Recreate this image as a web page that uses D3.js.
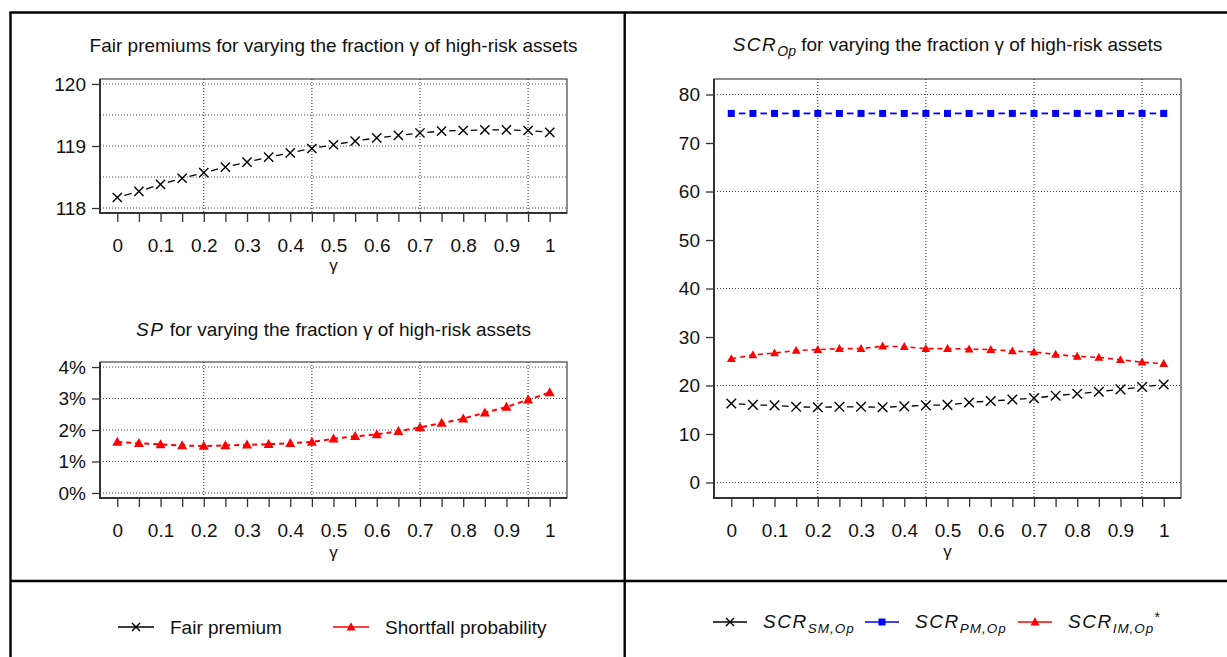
<!DOCTYPE html>
<html>
<head>
<meta charset="utf-8">
<script src="https://cdn.jsdelivr.net/npm/d3@7"></script>
<style>
body { margin: 0; background: #fff; }
svg text { font-family: "Liberation Sans", Arial, sans-serif; fill: #111; }
</style>
</head>
<body>
<div id="chart"></div>
<script>
// ---- data ----
const gamma = [0, 0.05, 0.1, 0.15, 0.2, 0.25, 0.3, 0.35, 0.4, 0.45, 0.5,
    0.55, 0.6, 0.65, 0.7, 0.75, 0.8, 0.85, 0.9, 0.95, 1];
const gammaLabels = ["0", "", "0.1", "", "0.2", "", "0.3", "", "0.4", "", "0.5",
    "", "0.6", "", "0.7", "", "0.8", "", "0.9", "", "1"];
const gammaGrid = [0.2, 0.45, 0.7, 0.95];

const fairPremium = [118.17, 118.27, 118.38, 118.48, 118.57, 118.66, 118.74, 118.82,
    118.89, 118.96, 119.02, 119.08, 119.13, 119.17, 119.21, 119.24, 119.25, 119.26,
    119.26, 119.25, 119.22];
const premiumTicks = [118, 119, 120];
const premiumGrid = [118, 118.5, 119, 119.5, 120];

const shortfallProb = [0.0162, 0.0158, 0.0154, 0.0151, 0.0149, 0.0151, 0.0153, 0.0155,
    0.0158, 0.0162, 0.0172, 0.0180, 0.0186, 0.0196, 0.0208, 0.0222, 0.0236, 0.0255,
    0.0273, 0.0296, 0.0319];
const spTicks = [0, 0.01, 0.02, 0.03, 0.04];

const scrSM = [16.3, 16.0, 15.9, 15.6, 15.5, 15.6, 15.6, 15.5, 15.7, 15.9, 16.0,
    16.5, 16.8, 17.1, 17.4, 17.9, 18.3, 18.7, 19.2, 19.7, 20.2];
const scrPM = [76.1, 76.1, 76.1, 76.1, 76.1, 76.1, 76.1, 76.1, 76.1, 76.1, 76.1,
    76.1, 76.1, 76.1, 76.1, 76.1, 76.1, 76.1, 76.1, 76.1, 76.1];
const scrIM = [25.5, 26.3, 26.7, 27.2, 27.4, 27.6, 27.6, 28.1, 28.0, 27.6, 27.6,
    27.5, 27.4, 27.1, 26.9, 26.4, 26.0, 25.8, 25.3, 24.8, 24.5];
const scrTicks = [0, 10, 20, 30, 40, 50, 60, 70, 80];
const scrGrid = [0, 20, 40, 60, 80];

// ---- drawing ----
const W = 1227, H = 657;
const svg = d3.select("#chart").append("svg")
    .attr("width", W).attr("height", H);

const markers = {
    cross: s => `M${-s},${-s}L${s},${s}M${-s},${s}L${s},${-s}`,
    tri: s => `M0,${-s * 1.05}L${s},${s * 0.75}L${-s},${s * 0.75}Z`,
    square: s => `M${-s},${-s}H${s}V${s}H${-s}Z`
};

function drawMarker(g, type, size, color, x, y) {
    const p = g.append("path")
        .attr("d", markers[type](size))
        .attr("transform", `translate(${x},${y})`);
    if (type === "cross") p.attr("fill", "none").attr("stroke", color).attr("stroke-width", 1.4);
    else p.attr("fill", color).attr("stroke", "none");
}

function drawPanel(cfg) {
    const g = svg.append("g");
    const b = cfg.box;
    const x = d3.scaleLinear().domain([-0.04, 1.04]).range([b.x0, b.x1]);
    const y = d3.scaleLinear().domain(cfg.yDomain).range([b.y1, b.y0]);

    // grid
    g.append("g").selectAll("line").data(cfg.yGrid).join("line")
        .attr("x1", b.x0).attr("x2", b.x1)
        .attr("y1", d => y(d)).attr("y2", d => y(d))
        .attr("stroke", "#444").attr("stroke-width", 1).attr("stroke-dasharray", "1,2");
    g.append("g").selectAll("line").data(gammaGrid).join("line")
        .attr("x1", d => x(d)).attr("x2", d => x(d))
        .attr("y1", b.y0).attr("y2", b.y1)
        .attr("stroke", "#222").attr("stroke-width", 1).attr("stroke-dasharray", "1,2");

    // box
    g.append("rect")
        .attr("x", b.x0).attr("y", b.y0)
        .attr("width", b.x1 - b.x0).attr("height", b.y1 - b.y0)
        .attr("fill", "none").attr("stroke", "#444").attr("stroke-width", 1.2);
    g.append("path")
        .attr("d", `M${b.x0},${b.y0}V${b.y1}H${b.x1}`)
        .attr("fill", "none").attr("stroke", "#333").attr("stroke-width", 2);

    // axes
    const yAxis = d3.axisLeft(y).tickValues(cfg.yTicks).tickSize(8).tickPadding(6)
        .tickFormat(cfg.yFormat);
    const ya = g.append("g").attr("transform", `translate(${b.x0},0)`).call(yAxis);
    const xAxis = d3.axisBottom(x).tickValues(gamma).tickSize(9).tickPadding(17)
        .tickFormat((d, i) => gammaLabels[i]);
    const xa = g.append("g").attr("transform", `translate(0,${b.y1})`).call(xAxis);
    [ya, xa].forEach(a => {
        a.select(".domain").remove();
        a.selectAll("line").attr("stroke", "#333").attr("stroke-width", 1.3);
        a.selectAll("text").attr("fill", "#111").attr("font-size", 19)
            .attr("font-family", "Liberation Sans, Arial, sans-serif");
    });

    g.append("text")
        .attr("x", (b.x0 + b.x1) / 2).attr("y", cfg.gammaY)
        .attr("text-anchor", "middle").attr("font-size", 17).text("γ");

    // title
    cfg.title(g.append("text")
        .attr("x", (b.x0 + b.x1) / 2).attr("y", cfg.titleY)
        .attr("text-anchor", "middle").attr("font-size", cfg.titleSize));

    // series
    cfg.series.forEach(s => {
        const pts = s.values.map((v, i) => [x(gamma[i]), y(v)]);
        if (s.line === "gap") {
            for (let i = 0; i < pts.length - 1; i++) {
                const [ax, ay] = pts[i], [bx, by] = pts[i + 1];
                const len = Math.hypot(bx - ax, by - ay);
                const ux = (bx - ax) / len, uy = (by - ay) / len;
                g.append("line")
                    .attr("x1", ax + ux * s.gap).attr("y1", ay + uy * s.gap)
                    .attr("x2", bx - ux * s.gap).attr("y2", by - uy * s.gap)
                    .attr("stroke", s.color).attr("stroke-width", s.lw);
            }
        } else {
            g.append("path")
                .attr("d", d3.line()(pts))
                .attr("fill", "none").attr("stroke", s.color)
                .attr("stroke-width", s.lw).attr("stroke-dasharray", s.dash);
        }
        pts.forEach(p => drawMarker(g, s.marker, s.size, s.color, p[0], p[1]));
    });
}

const gammaTitle = " for varying the fraction γ of high-risk assets";

drawPanel({
    box: { x0: 100, x1: 567, y0: 79, y1: 213 },
    yDomain: [117.92, 120.08], yTicks: premiumTicks, yGrid: premiumGrid,
    yFormat: d3.format("d"),
    titleY: 52, titleSize: 19, gammaY: 271,
    title: t => t.text("Fair premiums" + gammaTitle),
    series: [{ values: fairPremium, color: "#000", marker: "cross", size: 4.6,
        line: "gap", gap: 7.5, lw: 1.3 }]
});

drawPanel({
    box: { x0: 100, x1: 567, y0: 362, y1: 498 },
    yDomain: [-0.0016, 0.0416], yTicks: spTicks, yGrid: spTicks,
    yFormat: d3.format(".0%"),
    titleY: 336, titleSize: 19, gammaY: 558,
    title: t => {
        t.append("tspan").attr("font-style", "italic").attr("letter-spacing", 1.5).text("SP");
        t.append("tspan").text(gammaTitle);
    },
    series: [{ values: shortfallProb, color: "#f00", marker: "tri", size: 5,
        line: "dash", dash: "5,4", lw: 2 }]
});

drawPanel({
    box: { x0: 714, x1: 1181, y0: 79, y1: 498 },
    yDomain: [-3.2, 83.2], yTicks: scrTicks, yGrid: scrGrid,
    yFormat: d3.format("d"),
    titleY: 51, titleSize: 19, gammaY: 557,
    title: t => {
        t.append("tspan").attr("font-style", "italic").attr("letter-spacing", 1.5).text("SCR");
        t.append("tspan").attr("font-style", "italic").attr("font-size", 14)
            .attr("dy", 5).text("Op");
        t.append("tspan").attr("dy", -5).text(gammaTitle);
    },
    series: [
        { values: scrSM, color: "#000", marker: "cross", size: 4.8, line: "gap", gap: 7.5, lw: 1.3 },
        { values: scrPM, color: "#00f", marker: "square", size: 3.5, line: "gap", gap: 7.5, lw: 1.8 },
        { values: scrIM, color: "#f00", marker: "tri", size: 4.4, line: "dash", dash: "5,4", lw: 1.6 }
    ]
});

// ---- frame ----
const frame = svg.append("g").attr("stroke", "#000").attr("stroke-width", 2.4);
frame.append("line").attr("x1", 9.5).attr("x2", W).attr("y1", 12.5).attr("y2", 12.5);
frame.append("line").attr("x1", 10.5).attr("x2", 10.5).attr("y1", 12).attr("y2", H);
frame.append("line").attr("x1", 624.7).attr("x2", 624.7).attr("y1", 12).attr("y2", H);
frame.append("line").attr("x1", 10).attr("x2", W).attr("y1", 581).attr("y2", 581);

// ---- legends ----
const legendLeft = [
    { label: "Fair premium", color: "#000", marker: "cross", size: 4, x: 118 },
    { label: "Shortfall probability", color: "#f00", marker: "tri", size: 4.5, x: 333 }
];
legendLeft.forEach(d => {
    const g = svg.append("g");
    g.append("line").attr("x1", d.x).attr("x2", d.x + 36).attr("y1", 627).attr("y2", 627)
        .attr("stroke", d.color).attr("stroke-width", 1.4);
    drawMarker(g, d.marker, d.size, d.color, d.x + 18, 627);
    g.append("text").attr("x", d.x + 52).attr("y", 634).attr("font-size", 19).text(d.label);
});

const legendRight = [
    { sub: "SM,Op", star: false, color: "#000", marker: "cross", size: 4, x: 713 },
    { sub: "PM,Op", star: false, color: "#00f", marker: "square", size: 3.5, x: 865 },
    { sub: "IM,Op", star: true, color: "#f00", marker: "tri", size: 4.5, x: 1018 }
];
legendRight.forEach(d => {
    const g = svg.append("g");
    g.append("line").attr("x1", d.x).attr("x2", d.x + 34).attr("y1", 622).attr("y2", 622)
        .attr("stroke", d.color).attr("stroke-width", 1.4);
    drawMarker(g, d.marker, d.size, d.color, d.x + 17, 622);
    const t = g.append("text").attr("x", d.x + 50).attr("y", 628).attr("font-size", 19);
    t.append("tspan").attr("font-style", "italic").attr("letter-spacing", 1.5).text("SCR");
    t.append("tspan").attr("font-style", "italic").attr("font-size", 13.5)
        .attr("letter-spacing", 1).attr("dy", 5).text(d.sub);
    if (d.star) t.append("tspan").attr("font-size", 14).attr("dy", -11).text("*");
});
</script>
</body>
</html>
